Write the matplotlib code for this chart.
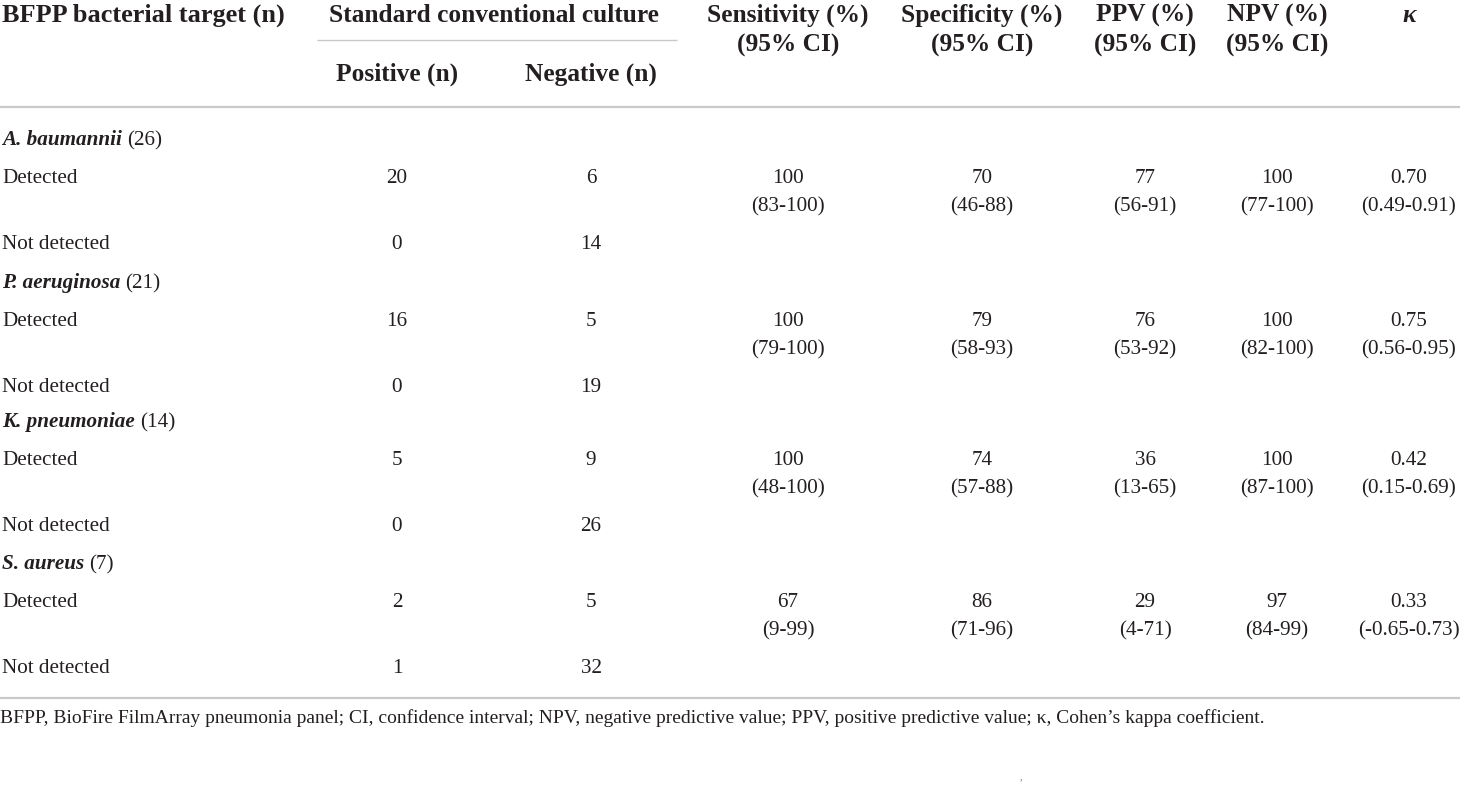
import matplotlib
matplotlib.use("Agg")
import matplotlib.pyplot as plt

# table content
targets = ["A. baumannii", "P. aeruginosa", "K. pneumoniae", "S. aureus"]
target_n = [26, 21, 14, 7]
det_pos = [20, 16, 5, 2]
det_neg = [6, 5, 9, 5]
notdet_pos = [0, 0, 0, 1]
notdet_neg = [14, 19, 26, 32]
sens = ["100", "100", "100", "67"]
sens_ci = ["83-100", "79-100", "48-100", "9-99"]
spec = ["70", "79", "74", "86"]
spec_ci = ["46-88", "58-93", "57-88", "71-96"]
ppv = ["77", "76", "36", "29"]
ppv_ci = ["56-91", "53-92", "13-65", "4-71"]
npv = ["100", "100", "100", "97"]
npv_ci = ["77-100", "82-100", "87-100", "84-99"]
kappa = ["0.70", "0.75", "0.42", "0.33"]
kappa_ci = ["0.49-0.91", "0.56-0.95", "0.15-0.69", "-0.65-0.73"]

footnote = ("BFPP, BioFire FilmArray pneumonia panel; CI, confidence interval; "
            "NPV, negative predictive value; PPV, positive predictive value; "
            "\u03ba, Cohen\u2019s kappa coefficient.")

# layout (pixels)
W, H = 1460, 791
col_pos, col_neg = 397, 591
col_x = [788, 982, 1145, 1277, 1409]
group_y = [138, 281, 420, 562]
TXT = "#231f20"
RULE = "#c9c9c9"
FONT = "Liberation Serif"
HS = 18.3   # header size
BS = 15.2   # body size

fig = plt.figure(figsize=(W / 100, H / 100), dpi=100)
ax = fig.add_axes([0, 0, 1, 1])
ax.set_xlim(0, W)
ax.set_ylim(H, 0)
ax.axis("off")


def t(x, y, s, size=BS, ha="center", weight="normal", style="normal", off=7):
    return ax.text(x, y + off, s, fontsize=size, ha=ha, va="baseline",
                   fontfamily=FONT, fontweight=weight, fontstyle=style, color=TXT)


# header
t(2, 14, "BFPP bacterial target (n)", 18.9, "left", "bold", off=8)
t(494, 14, "Standard conventional culture", HS, weight="bold", off=8)
ax.plot([317, 677], [40, 40], color=RULE, lw=1.0, solid_capstyle="butt")
t(col_pos, 73, "Positive (n)", HS, weight="bold", off=8)
t(col_neg, 73, "Negative (n)", HS, weight="bold", off=8)
heads = ["Sensitivity (%)", "Specificity (%)", "PPV (%)", "NPV (%)"]
for x, h in zip(col_x[:4], heads):
    t(x, 14, h, HS, weight="bold", off=8)
    t(x, 44, "(95% CI)", HS, weight="bold", off=8)
t(col_x[4], 14, "\u03ba", HS, weight="bold", style="italic", off=8)

ax.plot([0, W], [107, 107], color=RULE, lw=1.6, solid_capstyle="butt")

fig.canvas.draw()
rend = fig.canvas.get_renderer()
inv = ax.transData.inverted()

for i, name in enumerate(targets):
    y0 = group_y[i]
    yd = y0 + 38
    yc = yd + 28
    yn = yd + 66
    lab = t(2, y0, name, ha="left", weight="bold", style="italic")
    bb = lab.get_window_extent(renderer=rend)
    xe = inv.transform((bb.x1, bb.y0))[0]
    t(xe + 5, y0, f"({target_n[i]})", ha="left")

    t(2, yd, "Detected", ha="left")
    t(col_pos, yd, str(det_pos[i]))
    t(col_neg, yd, str(det_neg[i]))
    vals = [sens, spec, ppv, npv, kappa]
    cis = [sens_ci, spec_ci, ppv_ci, npv_ci, kappa_ci]
    for x, v, c in zip(col_x, vals, cis):
        t(x, yd, v[i])
        t(x, yc, f"({c[i]})")

    t(2, yn, "Not detected", ha="left")
    t(col_pos, yn, str(notdet_pos[i]))
    t(col_neg, yn, str(notdet_neg[i]))

ax.plot([0, W], [698, 698], color=RULE, lw=1.6, solid_capstyle="butt")
t(0, 717, footnote, 14.0, "left", off=6)
ax.text(1021, 784, "\u2032", fontsize=9, ha="center", va="center",
        fontfamily=FONT, color="#888888")

fig.savefig("out.png", dpi=100, facecolor="white")
